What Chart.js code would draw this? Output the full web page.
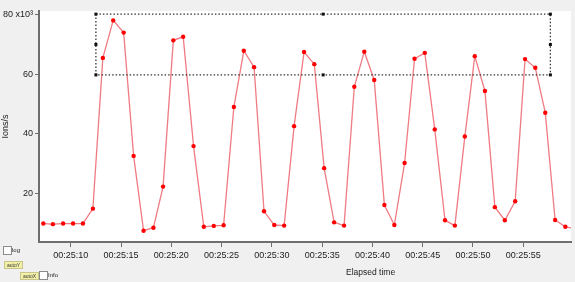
<!DOCTYPE html>
<html>
<head>
<meta charset="utf-8">
<script src="https://cdn.jsdelivr.net/npm/chart.js@4"></script>
<style>
  html, body { margin: 0; padding: 0; background: #f0f0f0; }
  #wrap { position: relative; width: 575px; height: 282px; overflow: hidden; font-family: "Liberation Sans Narrow", "Liberation Sans", sans-serif; }
  #chart { position: absolute; left: 0; top: 0; }
  .lbl { position: absolute; color: #222; white-space: nowrap; }
  .chk { position: absolute; width: 7px; height: 7px; background: #fff; border: 1px solid #8a8a8a; }
  .btn { position: absolute; background: #f3f0a8; border: 1px solid #c9c48a; font-size: 5px; line-height: 6px; color: #333; padding: 0 2px; }
  .tiny { font-size: 6px; }
</style>
</head>
<body>
<div id="wrap">
  <canvas id="chart" width="575" height="282"></canvas>
  <div class="lbl" style="left:346px; top:267px; font-size:8.5px;">Elapsed time</div>
  <div class="chk" style="left:3px; top:246px;"></div>
  <div class="lbl tiny" style="left:12px; top:247px;">log</div>
  <div class="btn" style="left:4px; top:261px;">autoY</div>
  <div class="btn" style="left:20px; top:272px;">autoX</div>
  <div class="chk" style="left:39px; top:271px;"></div>
  <div class="lbl tiny" style="left:48px; top:272px;">Info</div>
</div>
<script>
// elapsed seconds after 00:25:00, one sample per second
const times = [7.27, 8.22, 9.24, 10.23, 11.21, 12.2, 13.19, 14.22, 15.26, 16.25,
  17.24, 18.22, 19.18, 20.2, 21.18, 22.21, 23.23, 24.22, 25.2, 26.22,
  27.21, 28.23, 29.22, 30.24, 31.22, 32.21, 33.2, 34.22, 35.2, 36.19,
  37.18, 38.2, 39.19, 40.18, 41.19, 42.18, 43.2, 44.19, 45.21, 46.2,
  47.22, 48.2, 49.19, 50.18, 51.19, 52.18, 53.17, 54.2, 55.18, 56.2,
  57.19, 58.17, 59.19, 60.2];
// ions/s in thousands
const ions = [9.9, 9.7, 9.9, 9.9, 9.9, 14.9, 65.5, 78.1, 74.0, 32.6,
  7.5, 8.5, 22.3, 71.4, 72.6, 35.9, 8.8, 9.1, 9.3, 49.0,
  67.9, 62.4, 14.0, 9.4, 9.2, 42.6, 67.5, 63.4, 28.5, 10.3,
  9.2, 55.8, 67.6, 58.1, 16.1, 9.4, 30.2, 65.2, 67.2, 41.5,
  11.0, 9.2, 39.1, 66.1, 54.4, 15.4, 11.0, 17.4, 65.1, 62.2,
  47.1, 11.1, 8.8, 8.2];

const xTicks = [10, 15, 20, 25, 30, 35, 40, 45, 50, 55];
const yTicks = [20, 40, 60, 80];
// dotted selection box: [start s, end s] and [low, high] in thousands
const boxSecs = [12.5, 57.7];
const boxVals = [59.8, 80.2];

const xMin = 6.84, xMax = 59.75;
const yMin = 3.7, yMax = 81.25;

const areaAndBox = {
  id: 'areaAndBox',
  beforeDraw(chart) {
    const { ctx, chartArea: a } = chart;
    ctx.save();
    ctx.fillStyle = '#ffffff';
    ctx.fillRect(a.left, a.top, a.right - a.left, a.bottom - a.top);
    ctx.restore();
  },
  afterDatasetsDraw(chart) {
    const { ctx, scales } = chart;
    const x0 = scales.x.getPixelForValue(boxSecs[0]);
    const x1 = scales.x.getPixelForValue(boxSecs[1]);
    const y0 = scales.y.getPixelForValue(boxVals[1]);
    const y1 = scales.y.getPixelForValue(boxVals[0]);
    ctx.save();
    ctx.strokeStyle = '#333';
    ctx.lineWidth = 1.3;
    ctx.setLineDash([1.5, 2]);
    ctx.strokeRect(x0, y0, x1 - x0, y1 - y0);
    ctx.setLineDash([]);
    ctx.fillStyle = '#111';
    const xm = (x0 + x1) / 2, ym = (y0 + y1) / 2;
    [[x0, y0], [x1, y0], [x0, y1], [x1, y1], [xm, y0], [xm, y1], [x0, ym], [x1, ym]].forEach(([px, py]) => {
      ctx.fillRect(px - 1.5, py - 1.5, 3, 3);
    });
    ctx.restore();
  }
};

new Chart(document.getElementById('chart'), {
  type: 'line',
  data: {
    datasets: [{
      data: times.map((t, i) => ({ x: t, y: ions[i] })),
      borderColor: '#ef7b83',
      borderWidth: 1.3,
      pointRadius: 2.2,
      pointBackgroundColor: '#ff0000',
      pointBorderColor: '#ff0000',
      pointBorderWidth: 0,
      tension: 0,
    }],
  },
  options: {
    responsive: false,
    animation: false,
    devicePixelRatio: 1,
    layout: { padding: { top: 11, right: 0, left: 0, bottom: 0 } },
    plugins: { legend: { display: false }, tooltip: { enabled: false } },
    scales: {
      x: {
        type: 'linear',
        min: xMin,
        max: xMax,
        afterBuildTicks: s => { s.ticks = xTicks.map(v => ({ value: v })); },
        afterFit: s => { s.height = 40; },
        border: { display: true, color: '#6e6e6e', width: 2 },
        grid: { drawOnChartArea: false, drawTicks: true, tickLength: 5, color: '#6e6e6e' },
        ticks: {
          maxRotation: 0,
          autoSkip: false,
          padding: 3,
          color: '#222',
          font: { family: '"Liberation Sans Narrow", "Liberation Sans", sans-serif', size: 9 },
          callback: v => '00:25:' + String(v).padStart(2, '0'),
        },
      },
      y: {
        min: yMin,
        max: yMax,
        afterBuildTicks: s => { s.ticks = yTicks.map(v => ({ value: v })); },
        afterFit: s => { s.width = 39; },
        border: { display: true, color: '#6e6e6e', width: 2 },
        grid: { drawOnChartArea: false, drawTicks: true, tickLength: 4, color: '#6e6e6e' },
        title: {
          display: true,
          text: 'Ions/s',
          color: '#222',
          padding: { top: 0, bottom: 0 },
          font: { family: '"Liberation Sans Narrow", "Liberation Sans", sans-serif', size: 9 },
        },
        ticks: {
          padding: 2,
          color: '#222',
          font: { family: '"Liberation Sans Narrow", "Liberation Sans", sans-serif', size: 9 },
          callback: v => v === 80 ? '80 x10³' : String(v),
        },
      },
    },
  },
  plugins: [areaAndBox],
});
</script>
</body>
</html>
